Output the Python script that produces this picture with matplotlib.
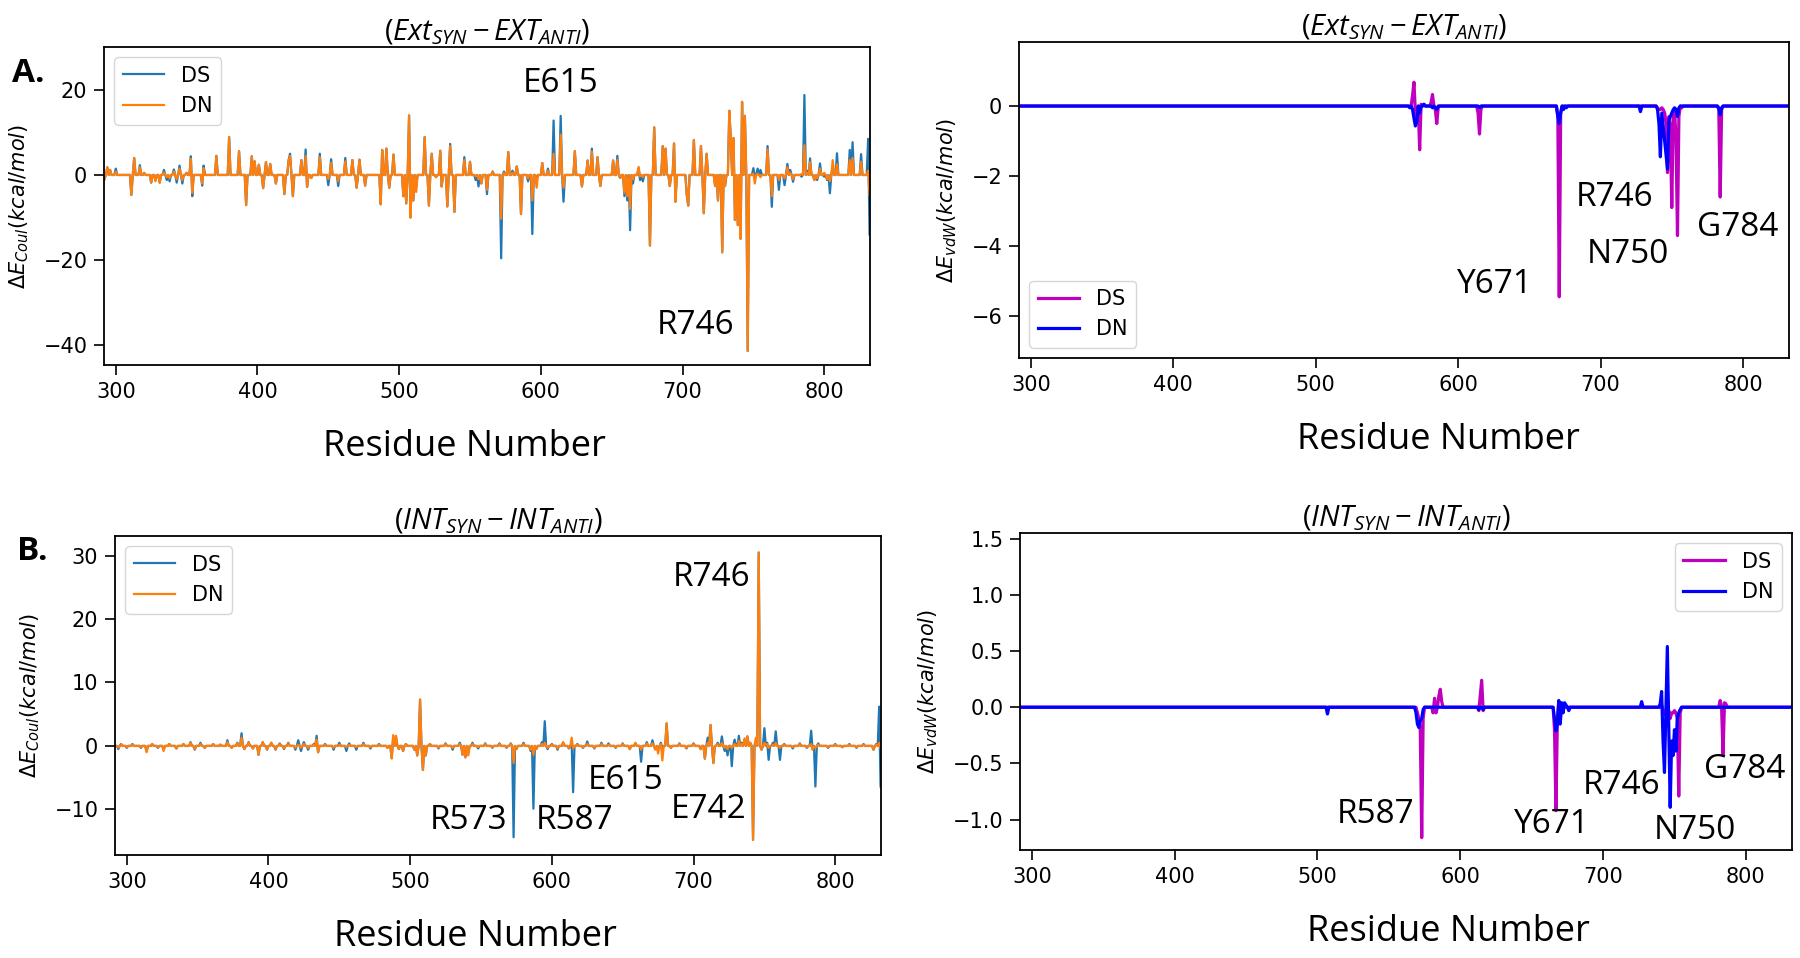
import matplotlib
matplotlib.use("Agg")
import matplotlib.pyplot as plt
import numpy as np

plt.rcParams['font.family'] = 'DejaVu Sans'
plt.rcParams['mathtext.fontset'] = 'custom'
plt.rcParams['mathtext.rm'] = 'Open Sans'
plt.rcParams['mathtext.it'] = 'Open Sans:italic'
plt.rcParams['mathtext.bf'] = 'Open Sans:bold'
plt.rcParams['axes.linewidth'] = 1.3

# residue range on every panel
res_first, res_last = 292, 832

# A. external, Coulomb  (residue, DS, DN) - baseline 0 elsewhere
ext_coul_res = [292, 294, 296, 300, 311, 313, 317, 320, 325, 328, 331, 334, 336, 338, 341, 343, 345, 347,
                350, 353, 354, 361, 362, 371, 380, 387, 392, 396, 398, 401, 404, 406, 409, 413, 419, 422,
                423, 425, 431, 434, 435, 438, 444, 450, 452, 457, 462, 467, 470, 472, 476, 487, 488, 491,
                493, 496, 503, 505, 507, 508, 510, 512, 518, 521, 523, 526, 529, 530, 534, 536, 539, 546,
                550, 554, 556, 558, 562, 566, 572, 574, 577, 580, 583, 586, 591, 594, 597, 601, 605, 609,
                614, 616, 624, 629, 633, 636, 640, 642, 651, 654, 656, 659, 661, 663, 665, 669, 670, 672,
                677, 680, 686, 688, 691, 694, 695, 703, 704, 708, 713, 715, 717, 723, 725, 728, 730, 733,
                734, 736, 737, 739, 741, 742, 744, 746, 750, 751, 753, 755, 760, 763, 768, 772, 774, 776,
                778, 784, 786, 788, 790, 793, 795, 797, 800, 802, 804, 806, 809, 818, 820, 826, 831, 832]
ext_coul_ds = [-1.0, 1.8, 1.2, 1.5, -4.7, 4.0, 2.3, 0.5, -1.8, -1.2, -1.8, 1.2, -1.2, -1.5, 1.3, -1.8, 2.2, -2.0,
               0.5, 4.4, -5.0, -2.5, 2.2, 4.5, 8.9, 5.6, -7.1, 4.4, 3.2, 2.4, -3.1, 3.0, 2.6, -2.0, -4.5, 3.5,
               5.0, -5.0, 3.5, 6.0, -2.8, -0.7, 5.0, -2.4, 3.7, -2.6, 4.0, 3.5, -3.0, 3.6, -2.5, -6.9, 5.9, 6.2,
               -3.0, 4.8, -5.0, -6.7, 14.0, -10.0, -6.0, -3.0, 8.9, -7.2, 5.0, -0.5, 5.7, -2.7, -7.4, 7.3, -8.7, 4.2,
               3.1, -1.2, -2.7, -2.0, -4.5, 0.8, -19.6, 0.8, 5.4, 1.0, 2.0, -9.2, -1.5, -13.9, -1.0, 2.8, 1.5, 12.8,
               13.9, -6.3, 5.6, -2.7, 3.4, 6.2, 4.2, -2.6, 3.4, 4.5, -0.7, -5.0, -6.0, -13.0, -2.0, 1.5, -1.2, -1.5,
               -16.6, 11.2, 6.8, 6.2, -2.6, 7.4, -6.3, -4.7, -7.2, 8.2, 6.8, -9.0, 5.0, -2.6, -6.0, -18.2, -2.6, 15.1,
               9.0, 8.7, -10.6, -11.8, -15.0, 17.2, 13.9, -41.4, 1.6, -0.5, 1.5, 1.2, 6.8, -7.5, -3.5, -2.4, 2.6, 1.2,
               -1.6, -0.4, 18.8, 1.0, 3.9, -1.2, -1.2, 2.7, -0.4, -1.2, -4.3, 2.0, 5.1, 5.9, 7.7, 4.9, 8.5, -14.0]
ext_coul_dn = [-1.0, 1.8, 1.2, 0.8, -4.7, 4.0, 1.8, 0.5, -1.8, -1.5, -1.8, 0.6, -0.5, -0.8, 0.8, -1.0, 1.5, -1.2,
               0.5, 3.8, -4.2, -2.0, 1.6, 4.5, 8.9, 5.6, -7.1, 4.4, 3.2, 2.4, -3.1, 3.0, 2.6, -2.0, -4.5, 3.5,
               4.5, -5.0, 3.5, 4.5, -2.8, -0.7, 4.2, -1.0, 2.8, -1.5, 3.2, 3.5, -3.0, 3.6, -2.5, -6.9, 5.9, 6.2,
               -3.0, 4.8, -5.0, -6.7, 14.0, -10.0, -6.0, -4.0, 8.9, -7.2, 5.0, -0.5, 5.7, -2.7, -7.4, 6.8, -8.7, 3.5,
               3.1, -0.3, -1.0, -2.0, -3.5, 0.8, -10.3, 0.5, 5.4, 0.5, 2.0, -9.2, -0.8, -6.0, -3.0, 2.8, 1.0, 5.0,
               9.5, -3.0, 5.6, -2.7, 3.4, 5.5, 4.2, -2.6, 3.4, 3.6, -0.7, -4.2, -5.0, -8.0, -1.0, 1.9, -0.3, -0.5,
               -16.6, 11.2, 6.8, 6.2, -2.6, 7.4, -6.3, -4.7, -7.2, 8.2, 6.8, -9.0, 5.0, -2.6, -6.0, -18.2, -2.6, 15.1,
               9.0, 8.7, -10.6, -11.8, -15.0, 17.2, 13.9, -41.4, 0.3, -2.0, 0.3, -0.5, 6.0, -5.0, -1.2, -0.8, 1.8, 0.5,
               -1.0, 0.2, 7.0, 0.5, 3.0, -1.2, -0.8, 1.5, 0.5, -1.0, -1.5, 3.5, 2.5, 3.5, 4.0, 3.1, 1.0, -4.7]

# A. external, van der Waals
ext_vdw_res = [566, 568, 569, 570, 571, 573, 574, 576, 581, 582, 584, 585, 586, 614, 615, 616, 670, 671, 672,
               674, 676, 728, 740, 741, 742, 743, 744, 745, 746, 747, 748, 749, 750, 751, 752, 753, 754, 755,
               757, 783, 784, 785]
ext_vdw_ds = [0.0, 0.3, 0.68, -0.2, -0.3, -1.25, 0.05, 0.05, 0.1, 0.33, -0.1, -0.5, -0.05, -0.2, -0.8, -0.1,
              -0.3, -5.45, -0.2, 0.0, 0.0, 0.0, -0.05, -0.1, -0.1, -0.05, -0.1, -0.2, -0.5, -1.9, -0.3, -0.6,
              -2.9, -0.3, -0.1, -1.0, -3.7, -0.3, -0.05, -0.1, -2.6, -0.1]
ext_vdw_dn = [-0.05, -0.1, -0.35, -0.57, -0.45, -0.2, 0.0, 0.05, 0.0, -0.05, -0.05, -0.1, 0.0, 0.0, -0.05, 0.0,
              -0.3, -0.5, -0.2, -0.1, -0.05, -0.16, -0.1, -0.5, -1.45, -0.2, -0.6, -1.0, -1.4, -1.8, -0.4, -0.3,
              -0.2, -0.1, -0.05, -0.1, -0.3, -0.05, 0.0, -0.05, -0.25, -0.05]

# B. internal, Coulomb
int_coul_res = [294, 296, 300, 304, 310, 314, 318, 322, 326, 330, 335, 340, 345, 348, 352, 355, 361, 366, 371,
                374, 378, 381, 383, 386, 389, 393, 396, 399, 402, 405, 408, 411, 414, 419, 421, 423, 425, 428,
                432, 434, 435, 440, 446, 450, 455, 457, 462, 467, 472, 478, 484, 487, 488, 490, 492, 495, 497,
                503, 505, 507, 509, 511, 514, 520, 525, 530, 535, 537, 539, 541, 544, 548, 553, 558, 563, 568,
                571, 573, 575, 580, 585, 587, 589, 593, 595, 597, 600, 604, 608, 612, 614, 615, 618, 622, 625,
                630, 635, 640, 645, 650, 655, 659, 663, 667, 671, 673, 675, 677, 678, 681, 684, 690, 695, 700,
                705, 708, 710, 712, 714, 717, 720, 722, 724, 727, 729, 732, 734, 736, 738, 740, 742, 744, 746,
                748, 750, 752, 753, 756, 758, 761, 764, 770, 775, 780, 783, 784, 786, 788, 795, 800, 805, 810,
                815, 820, 827, 829, 831, 832]
int_coul_ds = [-0.5, 0.3, -0.3, 0.3, -0.3, -0.8, 0.3, -0.3, -0.5, 0.3, -0.4, 0.3, 0.6, -0.6, 0.5, -0.3, 0.3, 0.2, 0.9,
               -0.3, 0.5, 2.0, -0.5, 0.6, -0.4, -1.4, 0.6, -0.6, 0.5, -0.6, 0.4, -0.5, 0.5, -0.6, 0.9, -0.8, 0.6, -0.6,
               0.3, 1.6, -1.0, 0.3, -0.6, 0.5, -0.8, 0.4, -0.6, 0.5, -0.4, 0.3, -0.3, -1.9, 1.2, 1.4, -0.5, -0.8, 0.3,
               -0.6, -1.5, 7.3, -3.8, -1.5, 0.3, -0.4, 0.4, -0.6, 0.5, -1.4, -1.8, -1.2, 0.5, -0.4, 0.4, -0.3, 0.4, -0.3,
               0.4, -14.4, -0.5, 0.5, -0.8, -9.9, -0.5, 0.6, 3.9, -0.5, 0.3, -0.6, 0.5, -0.4, 0.3, -7.3, 0.3, -0.3, 0.7,
               -0.4, 0.5, 0.4, -0.3, 0.4, -0.5, 0.4, -2.5, 0.6, 0.9, -0.5, -0.6, 0.5, -0.5, 3.5, -0.3, 0.4, -0.4, 0.4,
               -0.5, -2.0, 1.3, 3.3, -2.7, 0.5, 1.5, -0.8, -1.5, -3.2, 1.0, 1.6, 0.5, 1.0, 1.5, 0.5, -14.8, 0.5, 30.5,
               -0.6, 2.8, 0.5, -2.2, 0.5, 2.3, -2.2, 0.3, -0.4, 0.4, -0.3, 2.4, -0.5, -6.4, 0.4, -0.3, 0.3, -0.2, 0.3,
               -0.3, 0.3, -0.6, 0.3, 6.2, -6.4]
int_coul_dn = [-0.3, 0.3, -0.2, 0.2, -0.2, -1.0, 0.3, -0.2, -0.8, 0.3, -0.4, 0.3, 0.5, -0.5, 0.3, -0.3, 0.3, 0.2, 0.6,
               -0.3, 0.4, 1.3, -0.5, 0.5, -0.4, -1.4, 0.6, -0.5, 0.5, -0.5, 0.3, -0.4, 0.4, -0.3, 0.2, -0.3, 0.3, -0.3,
               0.2, 1.0, -1.0, 0.2, -0.3, 0.2, -0.2, 0.2, -0.2, 0.3, -0.2, 0.2, -0.3, -2.0, 1.7, 1.6, -0.5, -0.8, 0.3,
               -0.6, -1.5, 7.3, -3.8, -1.5, 0.3, -0.3, 0.3, -0.3, 0.3, -1.4, -1.8, -1.5, 0.3, -0.2, 0.3, -0.2, 0.3, -0.2,
               0.3, -2.7, -0.4, 0.3, -0.6, -1.4, -0.5, 0.3, 0.5, -0.3, 0.2, -0.4, 0.6, -0.3, 1.3, -0.4, 0.2, -0.2, 0.3,
               -0.3, 0.3, 0.2, -0.2, 0.3, -0.5, 0.5, -0.6, 0.4, 0.4, -0.6, -1.2, 0.3, -2.3, 3.6, -0.3, 0.3, -0.3, 0.3,
               -0.5, -2.0, 0.5, 3.3, -2.7, 0.3, 0.5, -0.3, -0.5, -0.3, 0.3, 0.8, 0.3, 1.2, 1.5, 0.5, -14.8, 1.3, 30.5,
               -0.6, 0.5, 0.3, -0.3, 0.2, 0.5, -0.3, 0.2, -0.2, 0.3, -0.2, 0.3, -0.6, -0.3, 0.2, -0.2, 0.2, -0.2, 0.2,
               -0.2, 0.2, -0.6, 0.2, 0.5, -0.3]

# B. internal, van der Waals
int_vdw_res = [507, 569, 570, 571, 572, 573, 574, 581, 582, 583, 585, 586, 587, 613, 614, 615, 616, 666, 667, 668,
               669, 670, 671, 672, 673, 674, 676, 727, 740, 741, 742, 743, 744, 745, 746, 747, 748, 749, 750, 751,
               752, 753, 754, 782, 784, 785, 786]
int_vdw_ds = [0.0, 0.0, -0.05, -0.1, -0.2, -1.16, -0.1, -0.05, 0.08, -0.05, 0.1, 0.16, 0.05, -0.03, 0.1, 0.24, -0.03,
              -0.2, -0.92, -0.1, 0.05, -0.05, 0.0, 0.0, 0.0, 0.0, 0.0, 0.0, 0.0, 0.02, -0.02, -0.05, -0.07, -0.05,
              -0.03, -0.1, -0.05, -0.05, -0.03, -0.05, -0.1, -0.79, -0.05, 0.06, -0.42, 0.04, 0.03]
int_vdw_dn = [-0.06, -0.05, -0.15, -0.18, -0.12, -0.1, -0.02, 0.0, 0.0, 0.0, 0.0, 0.0, 0.0, -0.02, 0.0, 0.0, -0.02,
              -0.1, -0.21, -0.15, 0.06, -0.15, 0.04, -0.05, 0.04, 0.02, -0.03, 0.05, 0.03, 0.14, -0.3, -0.58, 0.0,
              0.54, -0.2, -0.89, -0.3, -0.43, -0.2, -0.39, -0.1, -0.05, -0.02, 0.0, 0.0, 0.0, 0.0]

# residue labels: (text, residue, value)
ext_coul_labels = [("E615", 614, 21.4), ("R746", 709, -35.3)]
ext_vdw_labels = [("Y671", 626, -5.1), ("R746", 710, -2.6), ("N750", 719, -4.24), ("G784", 796, -3.46)]
int_coul_labels = [("R746", 713, 26.6), ("R573", 541, -11.7), ("R587", 616, -11.7),
                   ("E615", 652, -5.4), ("E742", 710.5, -10.1)]
int_vdw_labels = [("R587", 540.5, -0.95), ("Y671", 664, -1.04), ("R746", 713, -0.70),
                  ("N750", 764, -1.10), ("G784", 799.5, -0.55)]

residues = np.arange(res_first, res_last + 1)


def full_series(res, vals):
    y = np.zeros(len(residues))
    y[np.array(res) - res_first] = vals
    return y


def draw_panel(ax, res, ds, dn, labels, colors, lw, ylim, ylabel, title, legend_loc, xlabel_x):
    ax.plot(residues, full_series(res, ds), color=colors[0], lw=lw, label='DS')
    ax.plot(residues, full_series(res, dn), color=colors[1], lw=lw, label='DN')
    ax.set_xlim(291.7, 832.3)
    ax.set_ylim(*ylim)
    ax.set_xticks([300, 400, 500, 600, 700, 800])
    ax.tick_params(labelsize=15, length=7, width=1.2, pad=5)
    ax.set_ylabel(ylabel, fontsize=15, math_fontfamily='dejavusans', labelpad=9)
    ax.set_xlabel('Residue Number', fontsize=26, family='Open Sans', labelpad=20)
    ax.xaxis.label.set_x(xlabel_x)
    ax.set_title(title, fontsize=21, math_fontfamily='custom', pad=5)
    for txt, x, y in labels:
        ax.text(x, y, txt, fontsize=24, family='Open Sans', ha='center', va='center')
    ax.legend(loc=legend_loc, fontsize=15)


fig = plt.figure(figsize=(18, 9.58), dpi=100)
W, H = 1800.0, 958.0


def axes_px(left, top, right, bottom):
    return fig.add_axes([left / W, 1 - bottom / H, (right - left) / W, (bottom - top) / H])


ax1 = axes_px(104, 47, 870, 365)
ax2 = axes_px(1019, 42, 1789, 358)
ax3 = axes_px(115, 536, 881, 855)
ax4 = axes_px(1020, 533, 1792, 850)

coul_colors = ['#1f77b4', '#ff7f0e']
vdw_colors = ['m', 'b']

draw_panel(ax1, ext_coul_res, ext_coul_ds, ext_coul_dn, ext_coul_labels, coul_colors, 1.6,
           (-44.7, 30.1), r'$\Delta E_{Coul}(kcal/mol)$', r'$(Ext_{SYN} - EXT_{ANTI})$', 'upper left', 0.47)
draw_panel(ax2, ext_vdw_res, ext_vdw_ds, ext_vdw_dn, ext_vdw_labels, vdw_colors, 2.3,
           (-7.2, 1.83), r'$\Delta E_{vdW}(kcal/mol)$', r'$(Ext_{SYN} - EXT_{ANTI})$', 'lower left', 0.545)
draw_panel(ax3, int_coul_res, int_coul_ds, int_coul_dn, int_coul_labels, coul_colors, 1.6,
           (-17.2, 33.1), r'$\Delta E_{Coul}(kcal/mol)$', r'$(INT_{SYN} - INT_{ANTI})$', 'upper left', 0.47)
draw_panel(ax4, int_vdw_res, int_vdw_ds, int_vdw_dn, int_vdw_labels, vdw_colors, 2.3,
           (-1.27, 1.55), r'$\Delta E_{vdW}(kcal/mol)$', r'$(INT_{SYN} - INT_{ANTI})$', 'upper right', 0.555)

fig.text(28 / W, 1 - 74 / H, 'A.', fontsize=24, fontweight='bold', family='Open Sans', ha='center', va='center')
fig.text(32 / W, 1 - 552 / H, 'B.', fontsize=24, fontweight='bold', family='Open Sans', ha='center', va='center')

fig.savefig('out.png', dpi=100)
